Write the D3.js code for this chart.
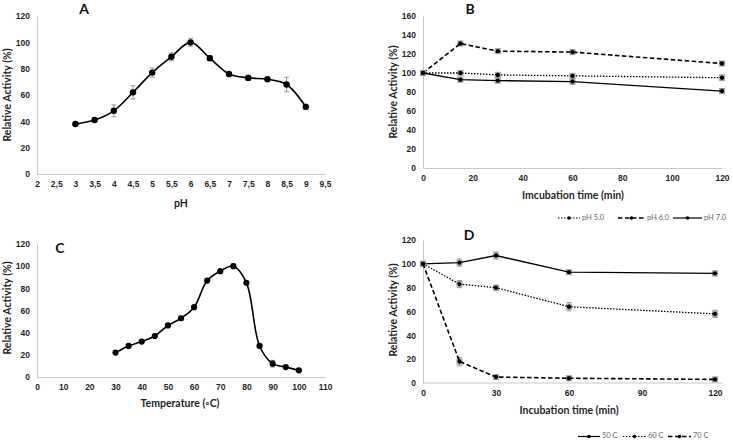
<!DOCTYPE html>
<html><head><meta charset="utf-8">
<script src="https://cdn.jsdelivr.net/npm/d3@7"></script>
<style>
html,body{margin:0;padding:0;background:#fff;}
svg{display:block;font-family:Lato,"Open Sans",sans-serif;}
</style></head>
<body>
<svg id="chart" width="733" height="441"></svg>
<script>
// ---------- DATA ----------
// Panel A: pH profile
const phA   = [3, 3.5, 4, 4.5, 5, 5.5, 6, 6.5, 7, 7.5, 8, 8.5, 9];
const actA  = [38, 41, 48, 62, 77, 89, 100, 88, 76, 73, 72, 68, 51];
const errA  = [0.8, 1, 4.5, 5, 3.5, 3, 3, 2, 1, 2, 1, 5.5, 2];
const xTicksA = [2, 2.5, 3, 3.5, 4, 4.5, 5, 5.5, 6, 6.5, 7, 7.5, 8, 8.5, 9, 9.5];
const yTicksA = [0, 20, 40, 60, 80, 100, 120];

// Panel B: pH stability
const timeB = [0, 15, 30, 60, 120];
const ph5B  = [100, 100, 98, 97, 95];
const ph6B  = [100, 131, 123, 122, 110];
const ph7B  = [100, 93, 92, 91, 81];
const ph5Err = [1.5, 2, 2, 2, 3];
const ph6Err = [1.5, 2, 1.5, 2, 2];
const ph7Err = [1.5, 2, 2.5, 3, 2.5];
const seriesB = ["pH 5.0", "pH 6.0", "pH 7.0"];
const xTicksB = [0, 20, 40, 60, 80, 100, 120];
const yTicksB = [0, 20, 40, 60, 80, 100, 120, 140, 160];

// Panel C: temperature profile
const tempC = [30, 35, 40, 45, 50, 55, 60, 65, 70, 75, 80, 85, 90, 95, 100];
const actC  = [22, 28, 32, 37, 46.5, 53, 63, 87, 95.5, 100, 85, 28, 12, 9, 6];
const errC  = [0.5, 0.5, 0.5, 0.5, 1, 2, 1, 0.5, 1, 2, 1, 1, 3, 0.5, 0.5];
const xTicksC = [0, 10, 20, 30, 40, 50, 60, 70, 80, 90, 100, 110];
const yTicksC = [0, 20, 40, 60, 80, 100, 120];

// Panel D: thermal stability
const timeD = [0, 15, 30, 60, 120];
const t50D  = [100, 101, 107, 93, 92];
const t60D  = [100, 83, 80, 64, 58];
const t70D  = [100, 18, 5, 4, 3];
const t50Err = [1.5, 3, 3, 1.5, 2];
const t60Err = [1.5, 3, 2, 3.5, 3];
const t70Err = [1.5, 3.5, 2, 1.5, 1.5];
const seriesD = ["50 C", "60 C", "70 C"];
const xTicksD = [0, 30, 60, 90, 120];
const yTicksD = [0, 20, 40, 60, 80, 100, 120];

// ---------- DRAW ----------
const svg = d3.select("#chart");
const AXIS = "#c8c8c8", TXT = "#1f1f1f";
const fmtComma = d => String(d).replace(".", ",");

function panel(cfg) {
  const g = svg.append("g");
  const x = d3.scaleLinear().domain(cfg.xDomain).range(cfg.xRange);
  const y = d3.scaleLinear().domain(cfg.yDomain).range(cfg.yRange);

  const ya = g.append("g").attr("transform", `translate(${cfg.xRange[0]},0)`)
    .call(d3.axisLeft(y).tickValues(cfg.yTicks).tickSize(0).tickPadding(7));
  const xa = g.append("g").attr("transform", `translate(0,${cfg.yRange[0]})`)
    .call(d3.axisBottom(x).tickValues(cfg.xTicks).tickSize(0).tickPadding(7)
      .tickFormat(cfg.xFmt || (d => d)));
  [ya, xa].forEach(a => {
    a.select(".domain").attr("stroke", AXIS).attr("stroke-width", 1);
    a.selectAll("text").attr("fill", TXT).attr("font-size", 8.5).attr("font-weight", "bold");
  });
  if (cfg.xLineEnd) {
    xa.select(".domain").remove();
    g.append("line").attr("x1", cfg.xRange[0]).attr("x2", cfg.xLineEnd)
      .attr("y1", cfg.yRange[0]).attr("y2", cfg.yRange[0]).attr("stroke", AXIS);
  }
  g.append("text").attr("x", cfg.xTitlePos[0]).attr("y", cfg.xTitlePos[1])
    .attr("text-anchor", "middle").attr("font-size", 10.5).attr("font-weight", "bold")
    .attr("fill", TXT).text(cfg.xTitle);
  g.append("text").attr("transform", `translate(${cfg.yTitlePos[0]},${cfg.yTitlePos[1]}) rotate(-90)`)
    .attr("text-anchor", "middle").attr("dominant-baseline", "middle")
    .attr("font-size", 10.5).attr("font-weight", "bold").attr("fill", TXT).text("Relative Activity (%)");
  g.append("text").attr("x", cfg.letterPos[0]).attr("y", cfg.letterPos[1])
    .attr("text-anchor", "middle").attr("dominant-baseline", "middle")
    .attr("font-size", 14).attr("font-weight", "bold").attr("fill", "#111").text(cfg.letter);

  cfg.series.forEach(s => {
    const pts = s.xs.map((xv, i) => ({x: xv, y: s.ys[i], e: s.err[i]}));
    const line = d3.line().x(d => x(d.x)).y(d => y(d.y))
      .curve(s.smooth ? d3.curveCatmullRom.alpha(0.5) : d3.curveLinear);
    const eb = g.append("g").attr("stroke", "#8c8c8c").attr("stroke-width", 0.9).attr("fill", "none");
    pts.forEach(d => {
      const cx = x(d.x), y1 = y(d.y + d.e), y2 = y(d.y - d.e);
      eb.append("line").attr("x1", cx).attr("x2", cx).attr("y1", y1).attr("y2", y2);
      eb.append("line").attr("x1", cx - 2.5).attr("x2", cx + 2.5).attr("y1", y1).attr("y2", y1);
      eb.append("line").attr("x1", cx - 2.5).attr("x2", cx + 2.5).attr("y1", y2).attr("y2", y2);
      if (s.box) {
        eb.append("rect").attr("x", cx - 2.6).attr("y", y(d.y) - 2.6).attr("width", 5.2).attr("height", 5.2)
          .attr("stroke", "#a0a0a0");
      }
    });
    g.append("path").datum(pts).attr("d", line).attr("fill", "none")
      .attr("stroke", "#000").attr("stroke-width", s.width || 1.4)
      .attr("stroke-dasharray", s.dash || null);
    g.append("g").selectAll("circle").data(pts).join("circle")
      .attr("cx", d => x(d.x)).attr("cy", d => y(d.y)).attr("r", s.r || 3.3).attr("fill", "#000");
  });

  if (cfg.legend) {
    cfg.legend.items.forEach(it => {
      const lg = svg.append("g");
      lg.append("line").attr("x1", it.x1).attr("x2", it.x2).attr("y1", cfg.legend.y).attr("y2", cfg.legend.y)
        .attr("stroke", "#000").attr("stroke-width", it.width).attr("stroke-dasharray", it.dash || null);
      lg.append("circle").attr("cx", (it.x1 + it.x2) / 2).attr("cy", cfg.legend.y).attr("r", 1.8).attr("fill", "#000");
      lg.append("text").attr("x", it.x2 + 2).attr("y", cfg.legend.y).attr("dominant-baseline", "middle")
        .attr("font-size", 7.5).attr("fill", "#666").text(it.label);
    });
  }
}

const DOT = "1.5,1.5", DASH = "4.5,2.5";

panel({
  xDomain: [2, 9.5], xRange: [37, 325], yDomain: [0, 120], yRange: [174, 16],
  xTicks: xTicksA, yTicks: yTicksA, xFmt: fmtComma,
  xTitle: "pH", xTitlePos: [181, 207], yTitlePos: [8, 95],
  letter: "A", letterPos: [84, 10],
  series: [{xs: phA, ys: actA, err: errA, smooth: true, width: 1.6, r: 3.2}]
});

panel({
  xDomain: [0, 120], xRange: [423, 722], yDomain: [0, 160], yRange: [168, 16],
  xTicks: xTicksB, yTicks: yTicksB,
  xTitle: "Imcubation time (min)", xTitlePos: [573, 199], yTitlePos: [394, 92],
  letter: "B", letterPos: [470, 10],
  series: [
    {xs: timeB, ys: ph5B, err: ph5Err, dash: DOT, width: 1.3, r: 2.2, box: true},
    {xs: timeB, ys: ph6B, err: ph6Err, dash: DASH, width: 1.6, r: 2.2, box: true},
    {xs: timeB, ys: ph7B, err: ph7Err, width: 1.3, r: 2.2, box: true}
  ],
  legend: {y: 218, items: [
    {x1: 558, x2: 580, dash: DOT, width: 1.2, label: seriesB[0]},
    {x1: 618, x2: 645, dash: DASH, width: 1.4, label: seriesB[1]},
    {x1: 673, x2: 702, width: 1.2, label: seriesB[2]}
  ]}
});

panel({
  xDomain: [0, 110], xRange: [37, 325], yDomain: [0, 120], yRange: [377, 244],
  xTicks: xTicksC, yTicks: yTicksC,
  xTitle: "Temperature (\u25E6C)", xTitlePos: [180, 407], yTitlePos: [8, 308],
  letter: "C", letterPos: [60, 249],
  series: [{xs: tempC, ys: actC, err: errC, smooth: true, width: 1.6, r: 3.1}]
});

panel({
  xDomain: [0, 120], xRange: [423, 715], yDomain: [0, 120], yRange: [383, 240],
  xTicks: xTicksD, yTicks: yTicksD, xLineEnd: 723,
  xTitle: "Incubation time (min)", xTitlePos: [569, 414], yTitlePos: [394, 310],
  letter: "D", letterPos: [469, 236],
  series: [
    {xs: timeD, ys: t50D, err: t50Err, width: 1.4, r: 2.2, box: true},
    {xs: timeD, ys: t60D, err: t60Err, dash: DOT, width: 1.3, r: 2.2, box: true},
    {xs: timeD, ys: t70D, err: t70Err, dash: DASH, width: 1.6, r: 2.2, box: true}
  ],
  legend: {y: 436.5, items: [
    {x1: 578, x2: 600, width: 1.2, label: seriesD[0]},
    {x1: 623, x2: 646, dash: DOT, width: 1.2, label: seriesD[1]},
    {x1: 668, x2: 691, dash: DASH, width: 1.4, label: seriesD[2]}
  ]}
});
</script>
</body></html>
